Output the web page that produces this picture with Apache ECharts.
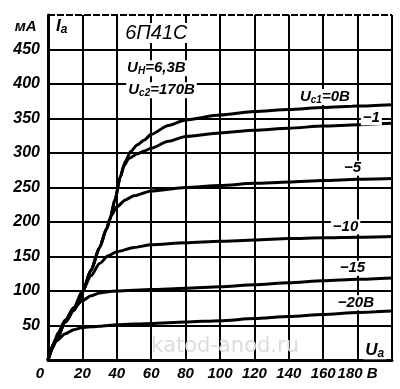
<!DOCTYPE html>
<html><head><meta charset="utf-8">
<script src="https://cdn.jsdelivr.net/npm/echarts@6/dist/echarts.min.js"></script>
<style>html,body{margin:0;padding:0;background:#fff}#c{width:400px;height:389px}</style>
</head><body><div id="c"></div>
<script>
// Anode voltage Ua (V) and anode current Ia (mA) for each control-grid voltage Uc1
const ua0  = [0,5,10,15,18,20,25,30,34,36,39,42,45,48,52,56,60,70,80,100,120,140,160,180,200];
const ia0  = [0,30,55,72,84,98,130,163,190,204,233,265,288,302,312,319,327,340,348,355,360,363,366,368,370];
const ua1  = [0,5,10,15,18,20,25,30,34,36,39,42,44,47,52,56,60,70,80,100,120,140,160,180,200];
const ia1  = [0,30,55,72,84,98,130,163,190,204,233,265,281,292,299,303,307,317,324,329,333,336,339,341,343];
const ua5  = [0,5,10,15,18,20,25,30,34,37,40,45,50,60,80,100,120,140,160,180,200];
const ia5  = [0,30,55,72,84,98,130,163,190,210,222,232,238,245,250,253,256,258,260,262,263];
const ua10 = [0,5,10,15,20,25,30,35,40,50,60,80,100,120,140,160,180,200];
const ia10 = [0,32,57,76,100,122,140,151,157,163,167,170,172,174,176,177,178,179];
const ua15 = [0,3,6,10,15,20,25,30,35,40,60,80,100,120,140,160,180,200];
const ia15 = [0,22,40,58,75,86,93,97,99,100,102,104,106,109,112,115,117,119];
const ua20 = [0,2,5,10,15,20,30,40,60,80,100,120,140,160,180,200];
const ia20 = [0,15,28,38,44,47,49,51,53,55,57,60,63,66,69,71];

const xTickLabels = {0:'{z|0}',20:'20',40:'40',60:'60',80:'80',100:'100',120:'120',140:'140',160:'160',180:'180 В',200:''};
const yTickLabels = {0:'',50:'50',100:'100',150:'150',200:'200',250:'250',300:'300',350:'350',400:'400',450:'450',500:''};

const curves = [[ua0,ia0],[ua1,ia1],[ua5,ia5],[ua10,ia10],[ua15,ia15],[ua20,ia20]];

const FONT = 'Liberation Sans';
const chart = echarts.init(document.getElementById('c'), null, {renderer:'canvas'});

const series = curves.map((c,i) => ({
  type:'line', data:c[0].map((x,k)=>[x,c[1][k]]), showSymbol:false, smooth:0.25,
  smoothMonotone:'x', lineStyle:{color:'#000', width:3}, z:3, silent:true,
  markLine: i===0 ? {symbol:'none', silent:true, label:{show:false},
    lineStyle:{color:'#000', width:2, type:[7,2]}, data:[{yAxis:500}]} : undefined
}));

chart.setOption({
  animation:false,
  backgroundColor:'#fff',
  grid:{left:48, right:8, top:15, bottom:29, containLabel:false},
  xAxis:{type:'value', min:0, max:200, interval:20,
    axisLine:{show:true, onZero:false, lineStyle:{color:'#000', width:3}},
    axisTick:{show:false},
    splitLine:{show:true, lineStyle:{color:'#000', width:2}},
    axisLabel:{show:true, margin:6, color:'#000', fontFamily:FONT, fontStyle:'italic', fontWeight:'bold', fontSize:15,
      formatter:v=>xTickLabels[v] ?? '', rich:{z:{fontFamily:FONT, fontStyle:'italic', fontWeight:'bold', fontSize:15, padding:[0,16,0,0]}}}
  },
  yAxis:{type:'value', min:0, max:500, interval:50,
    axisLine:{show:true, onZero:false, lineStyle:{color:'#000', width:3}},
    axisTick:{show:false},
    splitLine:{show:true, showMaxLine:false, lineStyle:{color:'#000', width:2}},
    axisLabel:{show:true, margin:8, color:'#000', fontFamily:FONT, fontStyle:'italic', fontWeight:'bold', fontSize:16,
      formatter:v=>yTickLabels[v] ?? ''}
  },
  series
});

const base = {fontFamily:FONT, fontStyle:'italic', fontWeight:'bold', fontSize:15, fill:'#000'};
const labels = [
  {t:'6П41С', x:63, y:474, fs:20, w:'normal', bg:true},
  {t:'{i|U}{s|Н}{i|=6,3В}', x:63, y:423, bg:true},
  {t:'{i|U}{s|с2}{i|=170В}', x:66, y:391, bg:true},
  {t:'{i|U}{s|с1}{i|=0В}', x:161, y:381, bg:true},
  {t:'−1', x:188, y:351, bg:true},
  {t:'−5', x:177, y:278, bg:true},
  {t:'−10', x:173, y:193, bg:true},
  {t:'−15', x:177, y:133, bg:true},
  {t:'−20В', x:179, y:83, bg:true},
  {t:'{i|U}{s|а}', x:190, y:14, fs:17, bg:true},
  {t:'{i|I}{s|а}', x:8, y:483, fs:17, bg:false},
  {t:'мА', x:-13, y:483, fs:15, bg:false}
];
const graphic = labels.map(l => {
  const p = chart.convertToPixel({gridIndex:0}, [l.x, l.y]);
  const fs = l.fs || 15;
  const b = Object.assign({}, base, {fontSize:fs, fontWeight:l.w||'bold'});
  const s = Object.assign({}, base, {fontSize:Math.round(fs*0.68), verticalAlign:'bottom', padding:[6,0,0,0]});
  return {type:'text', x:p[0], y:p[1], z:10, silent:true,
    style:Object.assign({}, b, {text:l.t, align:'center', verticalAlign:'middle',
      backgroundColor:l.bg?'#fff':null, padding:l.bg?[0,2,0,2]:0,
      rich:{i:b, s:s}})};
});
const wm = chart.convertToPixel({gridIndex:0}, [103, 19]);
graphic.push({type:'text', x:wm[0], y:wm[1], z:2, silent:true,
  style:{text:'katod-anod.ru', fontFamily:'DejaVu Sans', fontSize:21, fill:'#dcdcdc', align:'center', verticalAlign:'middle'}});
chart.setOption({graphic});
</script></body></html>
